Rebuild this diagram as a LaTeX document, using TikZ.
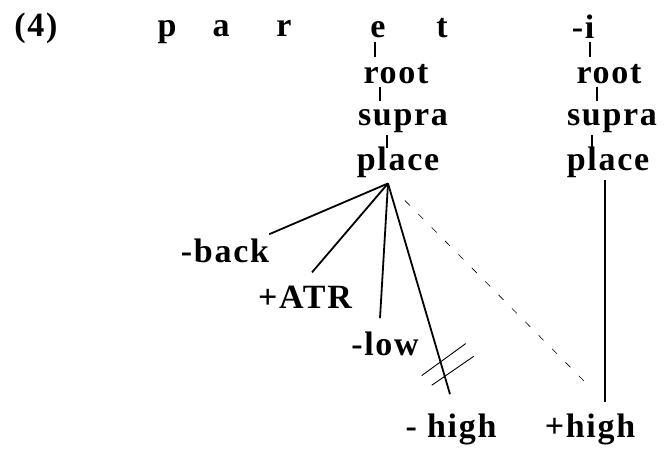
\documentclass[tikz,border=0pt]{standalone}
\usepackage{fontspec}
\setmainfont{Liberation Serif}[LetterSpace=5]
\usetikzlibrary{calc}
\newcommand\vtick[4]{\draw[tickln] ($(#1,0 |- #2.south)+(0,-3pt)$) -- ($(#1,0 |- #3.north)+(0,#4)$);}
\begin{document}
\begin{tikzpicture}[x=1pt,y=-1pt,
  lbl/.style={inner sep=0pt, anchor=base, font=\fontsize{34}{40}\selectfont\bfseries},
  link/.style={line width=1.8pt},
  tickln/.style={line width=1.4pt},
  assoc/.style={line width=0.6pt, dash pattern=on 7pt off 12pt},
  delink/.style={line width=0.9pt}]
\useasboundingbox (0,0) rectangle (664,452);
% top row
\node[lbl] (num) at (36,37) {(4)};
\node[lbl] (p) at (167,37) {p};
\node[lbl] (a) at (221,37) {a};
\node[lbl] (r) at (284,37) {r};
\node[lbl] (e) at (378,38) {e};
\node[lbl] (t) at (442,38) {t};
\node[lbl] (i) at (583,39) {-i};
% left column
\node[lbl] (rootL) at (396,83) {root};
\node[lbl] (supraL) at (403,125) {supra};
\node[lbl] (placeL) at (398,170) {place};
% right column
\node[lbl] (rootR) at (609,83) {root};
\node[lbl] (supraR) at (612,125) {supra};
\node[lbl] (placeR) at (608,170) {place};
% features
\node[lbl] (back) at (225,262) {-back};
\node[lbl] (atr) at (305,308) {+ATR};
\node[lbl] (low) at (385,355) {-low};
\node[lbl] (mhigh) at (451,437) {- high};
\node[lbl] (phigh) at (590,437) {+high};
% ticks
\vtick{375}{e}{rootL}{7pt}
\vtick{380}{rootL}{supraL}{8pt}
\vtick{387}{supraL}{placeL}{-2pt}
\vtick{590}{i}{rootR}{7pt}
\vtick{597}{rootR}{supraR}{8pt}
\vtick{592}{supraR}{placeR}{-2pt}
% hub and links
\coordinate (hubL) at ($(placeL.south)+(-10pt,-6pt)$);
\coordinate (mhEnd) at ($(mhigh.north)+(-1pt,19pt)$);
\coordinate (phTop) at ($(placeR.south)+(-3pt,-3pt)$);
\coordinate (phEnd) at ($(phigh.north)+(15pt,11pt)$);
\draw[link] (hubL) -- ($(back.north east)+(0,4pt)$);
\draw[link] (hubL) -- ($(atr.north)+(7pt,13pt)$);
\draw[link] (hubL) -- ($(low.north)+(-5pt,13pt)$);
\draw[link] (hubL) -- (mhEnd);
\draw[link] (phTop) -- (phEnd);
\draw[assoc, shorten <=24pt, shorten >=24pt] (hubL) -- (phEnd);
% delinking marks
\path (hubL) -- (mhEnd) coordinate[pos=0.85] (dl1) coordinate[pos=0.915] (dl2);
\draw[delink] ($(dl1)+(-19pt,-13pt)$) -- ($(dl1)+(25pt,19pt)$);
\draw[delink] ($(dl2)+(-13pt,-9pt)$) -- ($(dl2)+(29pt,20pt)$);
\end{tikzpicture}
\end{document}
